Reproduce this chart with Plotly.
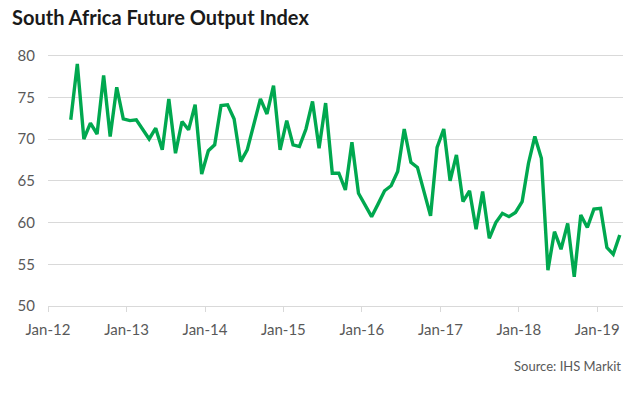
import pandas as pd
import plotly.graph_objects as go

# Monthly data, Apr-2012 .. Apr-2019
start_month = "2012-04-01"
values_2012 = [72.3, 79.0, 70.0, 71.9, 70.6, 77.6, 70.3, 76.2, 72.4]
values_2013 = [72.2, 72.3, 71.2, 70.0, 71.3, 68.7, 74.8, 68.3, 72.1, 71.1, 74.1, 65.8]
values_2014 = [68.6, 69.3, 74.0, 74.1, 72.4, 67.3, 68.7, 71.7, 74.8, 73.0, 76.4, 68.7]
values_2015 = [72.2, 69.3, 69.1, 71.2, 74.5, 68.9, 74.3, 65.9, 65.9, 63.9, 69.6, 63.5]
values_2016 = [62.1, 60.7, 62.2, 63.8, 64.4, 66.1, 71.2, 67.2, 66.6, 63.8, 60.8, 69.0]
values_2017 = [71.2, 65.0, 68.1, 62.5, 63.8, 59.2, 63.7, 58.1, 60.0, 61.1, 60.7, 61.2]
values_2018 = [62.5, 67.1, 70.3, 67.7, 54.3, 58.9, 56.8, 59.9, 53.5, 60.9, 59.4, 61.6]
values_2019 = [61.7, 57.0, 56.2, 58.5]

values = (values_2012 + values_2013 + values_2014 + values_2015 +
          values_2016 + values_2017 + values_2018 + values_2019)
dates = pd.date_range(start_month, periods=len(values), freq="MS")

tick_dates = pd.date_range("2012-01-01", "2019-01-01", freq="YS")
tick_labels = ["Jan-12", "Jan-13", "Jan-14", "Jan-15", "Jan-16", "Jan-17", "Jan-18", "Jan-19"]

title_text = "South Africa Future Output Index"
source_text = "Source: IHS Markit"

FONT = "Lato, Carlito, 'Open Sans', sans-serif"

W, H = 635, 395
L, R, T, B = 48, 12, 53, 89

fig = go.Figure()
fig.add_trace(go.Scatter(
    x=dates, y=values, mode="lines",
    xperiod="M1", xperiodalignment="middle",
    line=dict(color="#00a84f", width=3.4),
    hoverinfo="skip",
))

fig.update_layout(
    width=W, height=H,
    margin=dict(l=L, r=R, t=T, b=B),
    paper_bgcolor="white", plot_bgcolor="white",
    showlegend=False,
    font=dict(family=FONT, color="#595959", size=14),
    title=dict(text="<b>" + title_text + "</b>", x=12 / W, xref="container", xanchor="left",
               y=1 - 18 / H, yref="container", yanchor="middle",
               font=dict(family=FONT, size=20, color="#1a1a1a")),
    xaxis=dict(
        type="date",
        range=["2012-01-01", "2019-05-01"],
        tickvals=tick_dates, ticktext=tick_labels,
        showgrid=False, zeroline=False,
        showline=True, linecolor="#d9d9d9", linewidth=1,
        ticks="outside", ticklen=5, tickcolor="#d9d9d9", tickwidth=1,
        ticklabelstandoff=5,
        tickfont=dict(size=15, color="#595959"),
    ),
    yaxis=dict(
        range=[50, 80.3],
        tickvals=[50, 55, 60, 65, 70, 75, 80],
        showgrid=True, gridcolor="#d9d9d9", gridwidth=1,
        zeroline=False, showline=False, ticks="",
        ticklabelstandoff=12,
        tickfont=dict(size=15, color="#595959"),
    ),
    annotations=[dict(
        text=source_text, x=1, xref="paper", xanchor="right",
        y=-(366 - (H - B)) / (H - T - B), yref="paper", yanchor="middle",
        showarrow=False,
        font=dict(size=13, color="#595959"),
    )],
)

fig.write_html("out.html", config={"displayModeBar": False, "staticPlot": True},
               post_script="document.body.style.margin='0';")
